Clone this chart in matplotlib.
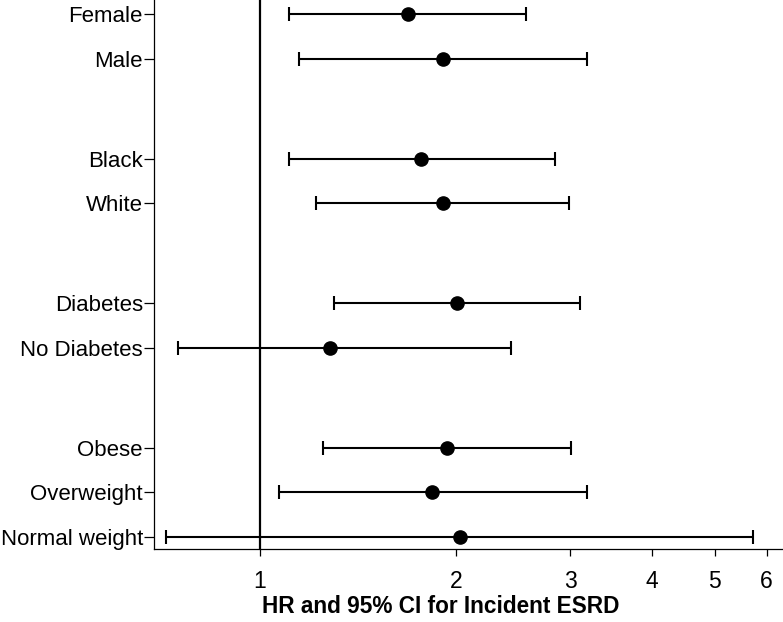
import matplotlib
matplotlib.use("Agg")
import matplotlib.pyplot as plt
from matplotlib.ticker import FixedLocator, NullLocator, FixedFormatter

plt.rcParams['font.family'] = ['Liberation Sans', 'DejaVu Sans']

groups = [["Female", "Male"], ["Black", "White"], ["Diabetes", "No Diabetes"],
          ["Obese", "Overweight", "Normal weight"]]
hr = [1.69, 1.91, 1.77, 1.91, 2.01, 1.28, 1.94, 1.84, 2.03]
ci_low = [1.11, 1.15, 1.11, 1.22, 1.30, 0.748, 1.25, 1.07, 0.717]
ci_high = [2.56, 3.18, 2.84, 2.98, 3.10, 2.43, 3.01, 3.18, 5.72]
xticks = [1, 2, 3, 4, 5, 6]

labels, ypos = [], []
y = 0.0
for gi, g in enumerate(groups):
    if gi > 0:
        y += 1.25
    for lab in g:
        labels.append(lab)
        ypos.append(y)
        y += 1.0

fig = plt.figure(figsize=(7.83, 6.22), dpi=100)
ax = fig.add_axes([0.1967, 0.1174, 0.8033, 0.8826])

ax.axvline(1, color='black', lw=1.6, zorder=1)
xerr = [[h - l for h, l in zip(hr, ci_low)], [u - h for h, u in zip(hr, ci_high)]]
ax.errorbar(hr, ypos, xerr=xerr, fmt='o', color='black', ms=9.5, lw=1.5,
            capsize=5, capthick=1.5, zorder=3)

ax.set_xscale('log')
ax.set_xlim(0.688, 6.36)
ax.set_ylim(ypos[-1] + 0.27, -0.315)
ax.xaxis.set_major_locator(FixedLocator(xticks))
ax.xaxis.set_major_formatter(FixedFormatter([str(t) for t in xticks]))
ax.xaxis.set_minor_locator(NullLocator())
ax.set_yticks(ypos)
ax.set_yticklabels(labels)

for s in ['top', 'right']:
    ax.spines[s].set_visible(False)
for s in ['left', 'bottom']:
    ax.spines[s].set_linewidth(0.9)

ax.tick_params(axis='y', length=7, width=0.9, pad=1, labelsize=16)
ax.tick_params(axis='x', length=5, width=0.9, pad=10, labelsize=16.5)

ax.set_xlabel("HR and 95% CI for Incident ESRD", fontsize=16.3, fontweight='bold')
ax.xaxis.set_label_coords(0.456, -0.084)

fig.savefig("out.png", dpi=100)
